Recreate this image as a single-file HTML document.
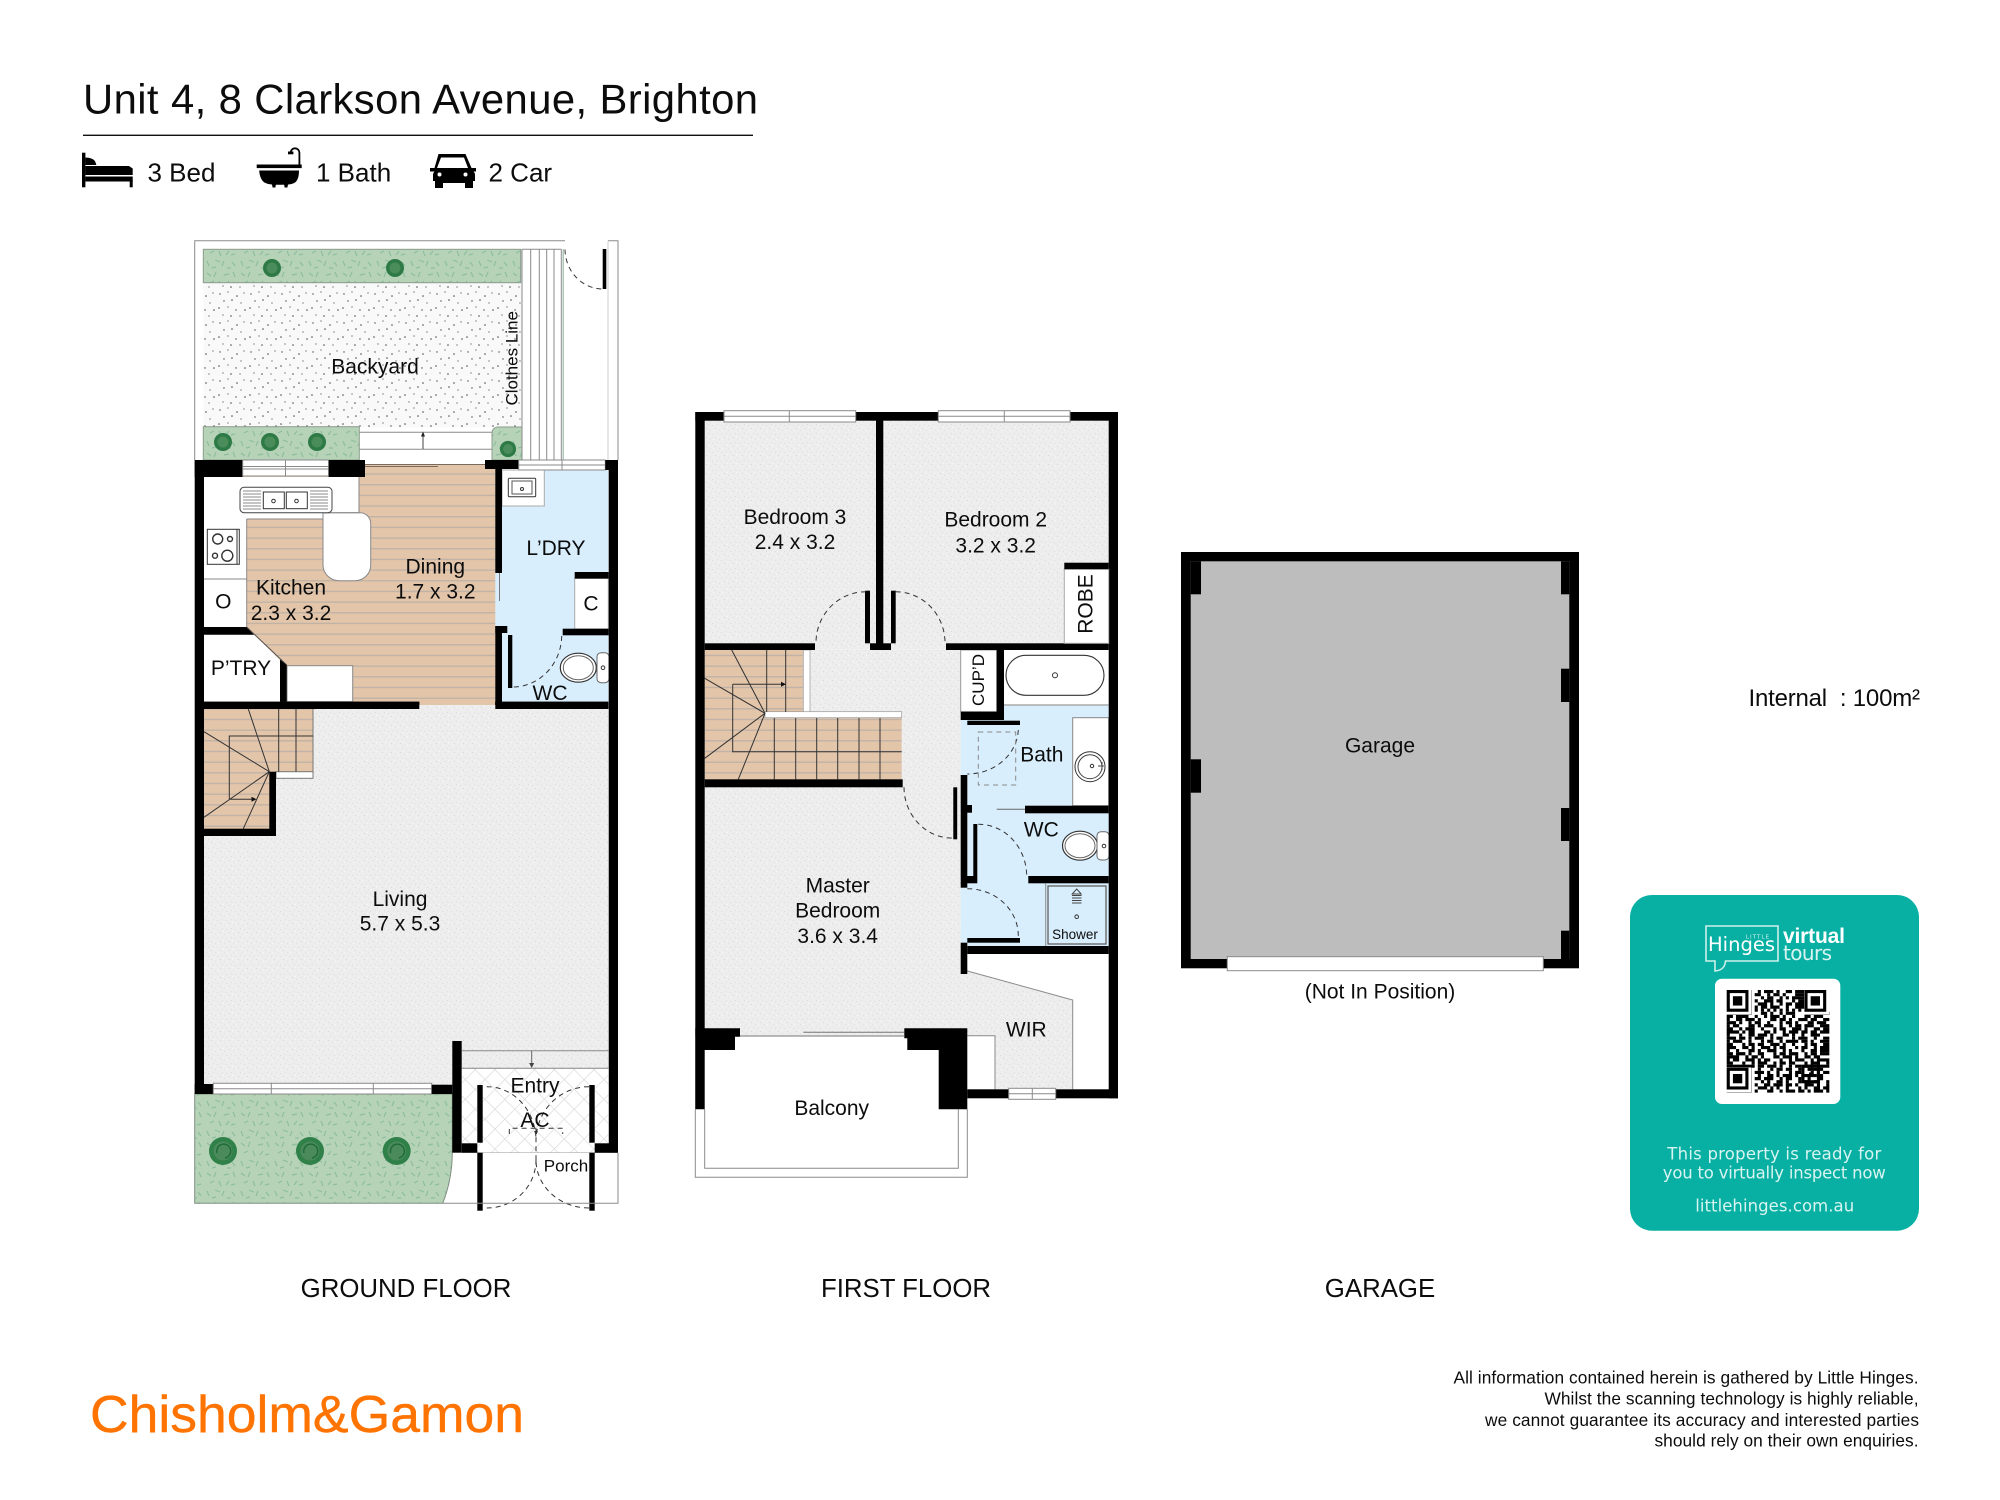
<!DOCTYPE html>
<html><head><meta charset="utf-8"><title>Unit 4, 8 Clarkson Avenue, Brighton</title>
<style>
html,body{margin:0;padding:0;background:#fff}
svg{display:block}
text{font-family:"Liberation Sans",Arial,sans-serif;fill:#0c0c0c}
.l{font-size:21px;text-anchor:middle}
.h{font-size:26px}
.f{font-size:25.8px;text-anchor:middle}
.s{font-size:17.3px;text-anchor:end}
.c text{font-family:"DejaVu Sans",sans-serif;fill:#d8f4f0;text-anchor:middle}
.d{fill:none;stroke:#333;stroke-width:1;stroke-dasharray:5 4}
.g{fill:none;stroke:#8a8a8a;stroke-width:1}
.n{fill:none;stroke:#333;stroke-width:1}
.k{fill:#000}
.w{fill:#fff;stroke:#8a8a8a;stroke-width:1}
.q path{stroke:#000;stroke-width:1.02;fill:none}
</style></head><body>
<svg xmlns="http://www.w3.org/2000/svg" width="2000" height="1500" viewBox="0 0 2000 1500">
<defs>
<pattern id="wood" patternUnits="userSpaceOnUse" width="12" height="10.67"><rect width="12" height="10.67" fill="#e3c5aa"/><rect y="4" width="12" height="1.2" fill="#bcb0a6"/></pattern>
<pattern id="cpt" patternUnits="userSpaceOnUse" width="9" height="9"><rect width="9" height="9" fill="#ededed"/><rect x="1" y="2" width="1" height="1" fill="#dcdcdc"/><rect x="6" y="1" width="1" height="1" fill="#dedede"/><rect x="4" y="5" width="1" height="1" fill="#d9d9d9"/><rect x="8" y="7" width="1" height="1" fill="#e0e0e0"/><rect x="2" y="7" width="1" height="1" fill="#f8f8f8"/><rect x="7" y="4" width="1" height="1" fill="#f8f8f8"/></pattern>
<pattern id="yard" patternUnits="userSpaceOnUse" width="31" height="29"><rect width="31" height="29" fill="#f9f9f9"/>
<g fill="#4a4a4a"><circle cx="3" cy="4" r=".7"/><circle cx="11" cy="2" r=".6"/><circle cx="20" cy="6" r=".8"/><circle cx="27" cy="3" r=".6"/><circle cx="7" cy="11" r=".7"/><circle cx="15" cy="10" r=".8"/><circle cx="24" cy="13" r=".6"/><circle cx="2" cy="18" r=".8"/><circle cx="11" cy="17" r=".6"/><circle cx="19" cy="20" r=".7"/><circle cx="28" cy="20" r=".8"/><circle cx="6" cy="25" r=".6"/><circle cx="14" cy="26" r=".8"/><circle cx="23" cy="26" r=".6"/></g></pattern>
<pattern id="grn" patternUnits="userSpaceOnUse" width="34" height="30"><rect width="34" height="30" fill="#b6d3b7"/>
<g stroke="#8ebd9f" stroke-width="1.2" fill="none"><path d="M3 3l4 3M12 2l-2 5M20 5l5-1M29 2l2 5M6 13l4-2M15 11l2 5M25 11l-3 4M31 14l-4 1M3 21l2 5M11 20l5 2M20 21l-2 5M28 22l3 4M8 28l4-1M23 28l4 0"/></g></pattern>
<pattern id="x" patternUnits="userSpaceOnUse" width="14" height="14" patternTransform="rotate(45)"><rect width="14" height="14" fill="#fff"/><path d="M0 0H14M0 0V14" stroke="#d6d6d6" stroke-width="1.2"/></pattern>
<g id="pl"><circle r="9" fill="#2e7a46"/><circle r="5.500" fill="#4a8c5a"/></g>
<g id="plb"><circle r="14" fill="#2f8049"/><circle r="9.500" fill="#4b8a5a"/><path d="M-6 2a7 7 0 1 1 8 5" fill="none" stroke="#1d6a38" stroke-width="1.400"/></g>
</defs>
<rect width="2000" height="1500" fill="#fff"/>

<!-- Header -->
<text x="83" y="113.300" font-size="41.800" textLength="675" lengthAdjust="spacing">Unit 4, 8 Clarkson Avenue, Brighton</text>
<rect x="83" y="134.600" width="670" height="1.400" fill="#111"/>
<g fill="#000">
<rect x="82" y="152.700" width="3.400" height="34.600"/>
<path d="M85.400 157.500c4 0 9 1.500 10 4.500l1 3H85.400z"/>
<path d="M85.400 166H129l3.700 2.500V175H85.400z"/>
<rect x="85.400" y="176.500" width="47.300" height="5"/>
<rect x="129.700" y="180" width="3" height="7.300"/>
<rect x="256.700" y="164.500" width="45" height="3.600"/><path d="M259 170.500h40c0 5-1 10-4 12-2 1.400-5 2-7 2l-.6 3h-2.800l-.4-2.800h-8.400l-.4 2.800h-2.800l-.6-3c-3-.2-5.400-.8-7.600-2-3-2-5-7-5.200-12z"/>
<path d="M299.400 164.500V152.700a4.400 4.400 0 0 0-8.800 0" fill="none" stroke="#000" stroke-width="1.800"/><rect x="288" y="151.500" width="5.400" height="2.800"/>
<path d="M438.500 154h27l6 14h4.500v3.500h-2.500c1 1 1.500 2 1.500 3.500v6h-2v7h-8v-5h-22v5h-8v-7h-2v-6c0-1.500.5-2.500 1.500-3.500H430V168H434.500zM441 157.500l-4 10.500h31l-4-10.500z"/>
</g>
<circle cx="439.500" cy="174.500" r="2" fill="#fff"/><circle cx="465.500" cy="174.500" r="2" fill="#fff"/>
<text class="h" x="147.500" y="181.500">3 Bed</text>
<text class="h" x="316" y="181.500">1 Bath</text>
<text class="h" x="488.500" y="181.500">2 Car</text>

<!-- GROUND FLOOR: yard -->
<path class="g" d="M194.700 460V240.700H565M608 240.700H618V460"/>
<path d="M608 240.700V460" stroke="#cfcfcf" fill="none"/>
<rect x="203.300" y="249.300" width="318.700" height="178" fill="url(#yard)"/>
<rect x="359.300" y="432" width="132.700" height="28" fill="#fff"/>
<path class="g" d="M359.300 432.300H492M359.300 449.300H492"/>
<path d="M423 449V436" stroke="#444" fill="none"/><path d="M423 431.500l-2 5h4z" fill="#222"/>
<rect x="203.300" y="249.300" width="317.400" height="33.400" fill="url(#grn)" stroke="#8c9c8e"/>
<rect x="203.300" y="426.700" width="156" height="33.300" fill="url(#grn)" stroke="#8c9c8e"/>
<path d="M522 427H498a6 6 0 0 0-6 6V460H522z" fill="url(#grn)" stroke="#8c9c8e"/>
<use href="#pl" x="272" y="268"/><use href="#pl" x="395" y="268"/>
<use href="#pl" x="223" y="442"/><use href="#pl" x="270" y="442"/><use href="#pl" x="317" y="442"/>
<use href="#pl" x="508" y="449" transform="translate(50.800 44.900) scale(.9)"/>
<path class="g" d="M522 249.300H561.300M522 249.300V460M530.700 249.300V460M539.300 249.300V460M546.700 249.300V460M554 249.300V460M561.300 249.300V460"/>
<path d="M563.200 249.300V460" stroke="#9ab9a3" fill="none" stroke-width="1.200"/>
<rect x="602.700" y="249" width="3.600" height="40" class="k"/>
<path class="d" d="M565 249.500A38 40 0 0 0 602 289"/>

<!-- Ground interior floors -->
<rect x="204" y="464" width="291.400" height="241" fill="url(#wood)"/>
<rect x="204" y="477" width="155" height="42" fill="#fff"/>
<rect x="204" y="477" width="42.700" height="158" fill="#fff"/>
<path d="M323 512.700H360a10.700 10.700 0 0 1 10.700 10.700V565a15.700 15.700 0 0 1-15.700 15.700H339a16 16 0 0 1-16-16z" fill="#fff" stroke="#888"/>
<path d="M359 477V512.700H323M246.700 519H323V513" fill="none" stroke="#888"/>
<path class="g" d="M246.700 519V627M204 579H246.700"/>
<!-- kitchen sink -->
<rect x="240" y="487.300" width="92" height="25.400" rx="4" fill="#fff" stroke="#444"/>
<rect x="263.300" y="492" width="21" height="16.700" fill="#fff" stroke="#333"/><rect x="286.300" y="492" width="21" height="16.700" fill="#fff" stroke="#333"/>
<path d="M243 491H261M243 494H261M243 497H261M243 500H261M243 503H261M243 506H261M243 509H261M310 491H328M310 494H328M310 497H328M310 500H328M310 503H328M310 506H328M310 509H328" stroke="#666" stroke-width=".8"/>
<circle cx="273.500" cy="501" r="1.800" fill="none" stroke="#333"/><circle cx="296.500" cy="501" r="1.800" fill="none" stroke="#333"/>
<!-- cooktop -->
<rect x="207.300" y="529.300" width="32" height="35" fill="#fff" stroke="#333"/><path d="M237 529.300V564.300" stroke="#333"/>
<g fill="none" stroke="#333" stroke-width="1.400"><circle cx="217.700" cy="539" r="5"/><circle cx="230" cy="539" r="2.500"/><circle cx="215" cy="555.700" r="2.500"/><circle cx="227.300" cy="555.700" r="5.500"/></g>
<!-- pantry -->
<path d="M204 634.700H254L280 660V702H204z" fill="#fff"/>
<rect x="287" y="665.700" width="65.700" height="36" fill="#fff" stroke="#888"/>
<path class="k" d="M204 627H246.700L254 634.700H204z"/>
<path d="M246.700 627L286.700 665" stroke="#555" fill="none"/>
<path class="k" d="M280 659.500L286.700 665V701.700H280z"/>
<!-- sliding door and window -->
<path d="M365 464.500H485M365 466.500H438" stroke="#7a6a5c" fill="none"/>
<rect x="194.700" y="460" width="48" height="17" class="k"/>
<rect x="242.700" y="460" width="86" height="16" class="w"/><path class="g" d="M242.700 466.500H328.700M242.700 469H328.700M285.500 460V476"/>
<rect x="328.700" y="460" width="36.300" height="17" class="k"/>
<rect x="485" y="460" width="33.700" height="9" class="k"/>
<!-- laundry and WC -->
<rect x="495.400" y="470" width="113" height="156" fill="#d9eefd"/>
<rect x="502" y="620" width="106.500" height="82" fill="#d9eefd"/>
<rect x="502" y="470" width="42.300" height="36" fill="#fff" stroke="#aaa"/>
<rect x="508.300" y="478.300" width="27.400" height="18.400" fill="#fff" stroke="#333" rx="1"/><rect x="512" y="481" width="20" height="13" fill="none" stroke="#555"/><circle cx="522" cy="489" r="1.500" fill="none" stroke="#333"/>
<rect x="574.700" y="578" width="33.600" height="51" fill="#fff" stroke="#aaa"/>
<rect x="518.700" y="460" width="86.600" height="10" class="w"/><path class="g" d="M518.700 465H605.300M562 460V470"/>
<rect x="605.300" y="460" width="12.700" height="10" class="k"/>
<rect x="495.300" y="469" width="6.700" height="104" class="k"/>
<path d="M499.500 573V601" stroke="#777" fill="none"/>
<rect x="574.700" y="572" width="34" height="6.700" class="k"/>
<rect x="495.300" y="626" width="6.700" height="83" class="k"/><rect x="495.300" y="626" width="12" height="7" class="k"/>
<rect x="562.700" y="628.700" width="46" height="6.600" class="k"/>
<rect x="508" y="635" width="4.300" height="53" class="k"/>
<path class="d" d="M561.700 636A49 52 0 0 1 513 687"/>
<ellipse cx="578.300" cy="667.700" rx="18" ry="14.500" fill="#fff" stroke="#333" stroke-width="1.200"/><ellipse cx="578.300" cy="667.700" rx="15" ry="12" fill="none" stroke="#666"/>
<rect x="597" y="652.700" width="12" height="30" rx="4" fill="#fff" stroke="#666"/><circle cx="603" cy="667.700" r="1.800" fill="none" stroke="#333"/>
<rect x="204" y="701.700" width="215.300" height="7.300" class="k"/>
<rect x="495.300" y="701.700" width="113" height="7.300" class="k"/>

<!-- Living -->
<rect x="204" y="705" width="404" height="389" fill="url(#cpt)"/>
<rect x="204" y="701.700" width="215.300" height="7.300" class="k"/>
<rect x="495.300" y="701.700" width="113" height="7.300" class="k"/>
<rect x="204" y="709" width="109" height="62.700" fill="url(#wood)"/>
<rect x="204" y="771" width="65.400" height="58" fill="url(#wood)"/>
<rect x="276" y="771.700" width="37" height="6.600" fill="#fff" stroke="#777"/>
<path d="M313 709V771.700" stroke="#777" fill="none"/>
<path class="n" d="M269.300 771.700L204 731.700M269.300 771.700L248.300 709M269.300 771.700L204 817.300M269.300 771.700L243.300 828.700M278.700 709V771.700M296 709V771.700M229.300 799.300V736H313M229.300 799.300H253"/>
<path d="M256.500 799.300l-5-2.500v5z" fill="#111"/>
<rect x="269.300" y="771.700" width="6.700" height="64.300" class="k"/><rect x="204" y="828.700" width="72" height="7.300" class="k"/>

<!-- Ground walls -->
<rect x="194.700" y="460" width="9.300" height="634" class="k"/>
<rect x="608.700" y="460" width="9.300" height="692.700" class="k"/>

<!-- Front garden -->
<path d="M194.700 1094H452.300V1152C452.300 1172 448 1190 442.700 1203.300H194.700z" fill="url(#grn)" stroke="#7f8f80"/>
<use href="#plb" x="223" y="1151"/><use href="#plb" x="310" y="1151"/><use href="#plb" x="396.700" y="1151"/>
<rect x="194.700" y="1084" width="18.600" height="10" class="k"/>
<rect x="213.300" y="1083.300" width="218.400" height="10.700" class="w"/><path class="g" d="M213.300 1088.700H431.700M271.300 1083.300V1094M373.300 1083.300V1094"/>
<rect x="431.700" y="1084.700" width="20.600" height="9.300" class="k"/>
<rect x="452.300" y="1041" width="9.400" height="111.700" class="k"/>
<!-- Entry -->
<rect x="461.700" y="1068.300" width="147" height="84.400" fill="url(#x)" stroke="#999" stroke-width=".5"/>
<path class="g" d="M461.700 1050.700H608.700M461.700 1068.300H608.700"/>
<path d="M531.700 1050.700V1064" stroke="#666" fill="none"/><path d="M531.700 1068l-2.500-5h5z" fill="#444"/>
<rect x="461.700" y="1143.300" width="15.600" height="9.400" class="k"/><rect x="594.700" y="1143.300" width="23.300" height="9.400" class="k"/>
<rect x="477.300" y="1085" width="5.400" height="57.700" class="k"/><rect x="477.300" y="1152.700" width="5.400" height="58" class="k"/>
<rect x="589.300" y="1085" width="5.400" height="57.700" class="k"/><rect x="589.300" y="1152.700" width="5.400" height="58" class="k"/>
<path class="d" d="M486.700 1086.700A49 54 0 0 1 536 1141M589 1086.700A53 54 0 0 0 536 1141M486.700 1208A49 48 0 0 0 536 1160M589 1208A53 48 0 0 1 536 1160M509.300 1134V1128.300H562.700V1134M536 1128.300V1160"/>
<path d="M536 1135l-2-4h4z" fill="#333"/>
<path class="g" d="M442.700 1203.300H618V1152.700"/>

<!-- FIRST FLOOR -->
<rect x="704.700" y="420.700" width="404" height="229" fill="url(#cpt)"/>
<rect x="704.700" y="650" width="256" height="390" fill="url(#cpt)"/>
<path d="M967.300 971.300L1072.700 1000V1089.300H995V1035.700H960V965z" fill="url(#cpt)"/>
<path class="g" d="M962 969.500L1072.700 1000V1089.300M995 1089.300V1035.700H960"/>
<rect x="704.700" y="650" width="98.600" height="62" fill="url(#wood)"/>
<rect x="704.700" y="717.700" width="197" height="61.600" fill="url(#wood)"/>
<rect x="704.700" y="711" width="60.300" height="7" fill="url(#wood)"/>
<rect x="803.300" y="650" width="6.700" height="62" fill="#fff" stroke="#999" stroke-width=".7"/>
<rect x="765" y="711.700" width="136.700" height="6" fill="#fff" stroke="#999" stroke-width=".7"/>
<path class="n" d="M765 713.300L731.700 650M765 713.300L704.700 678.300M765 713.300L704.700 758.300M765 713.300L738.300 779.300M766.700 650V712M785.700 650V712M774.300 718V779.300M795.700 718V779.300M816.700 718V779.300M837.700 718V779.300M859 718V779.300M880 718V779.300M732.700 684.300V751.700H901.700M732.700 684.300H782"/>
<path d="M786 684.300l-5-2.500v5z" fill="#111"/>

<!-- Bathroom zone -->
<rect x="960.700" y="705" width="148" height="241" fill="#d9eefd"/>
<rect x="1004" y="650" width="104.700" height="55" fill="#fff"/><path d="M1004 705H1108.700" stroke="#aaa" stroke-width="1.500"/>
<rect x="1006" y="655.300" width="98" height="40" rx="20" fill="#fff" stroke="#333" stroke-width="1.100"/><circle cx="1055" cy="675.300" r="2.500" fill="none" stroke="#333"/>
<rect x="960.700" y="650" width="36" height="61.700" fill="#fff" stroke="#999"/>
<rect x="1072.700" y="717.700" width="36" height="88" fill="#fff" stroke="#888"/>
<circle cx="1090" cy="766.700" r="15" fill="none" stroke="#333"/><circle cx="1090" cy="766.700" r="12" fill="none" stroke="#444"/><circle cx="1092" cy="766" r="1.700" fill="none" stroke="#333"/><path d="M1098 766H1104M1102 762V770" stroke="#444" fill="none"/>
<rect x="996.700" y="650" width="7.300" height="70" class="k"/><rect x="960.700" y="711.700" width="43.300" height="8.300" class="k"/>
<rect x="967.300" y="720.700" width="52.700" height="4.300" class="k"/>
<path class="d" d="M1018.300 730A51 46 0 0 1 967.300 774"/>
<rect x="978.300" y="732" width="37.400" height="53" fill="none" stroke="#888" stroke-dasharray="5 4"/>
<rect x="1025" y="805.700" width="83.700" height="7.600" class="k"/>
<path d="M996.700 809.300H1025" stroke="#666" fill="none"/>
<rect x="960.700" y="775" width="6.600" height="112.700" class="k"/>
<rect x="966" y="805" width="6" height="7.700" class="k"/>
<rect x="953.300" y="787.300" width="3.900" height="52" class="k"/>
<rect x="973.300" y="824" width="4" height="52" class="k"/><rect x="966" y="876" width="11.300" height="7.300" class="k"/>
<path class="d" d="M978.300 824.300A48 52 0 0 1 1026.700 876"/>
<path class="d" d="M904 787.300A48 51 0 0 0 951.700 838"/>
<rect x="1028.300" y="876" width="80.400" height="7.300" class="k"/>
<ellipse cx="1080" cy="845.700" rx="17.500" ry="14.500" fill="#fff" stroke="#333" stroke-width="1.200"/><ellipse cx="1080" cy="845.700" rx="15" ry="12" fill="none" stroke="#666"/>
<rect x="1097" y="831.700" width="12" height="28.300" rx="4" fill="#fff" stroke="#666"/><circle cx="1104" cy="846" r="1.800" fill="none" stroke="#333"/>
<path class="g" d="M1045.700 883V946"/>
<rect x="1048" y="886" width="58" height="58" fill="none" stroke="#555" stroke-width="1.200"/>
<path d="M1076.700 889l4.500 5h-9zM1072 895.500h9.500M1072 898h9.500M1072 900.500h9.500M1072 903h9.500" stroke="#444" fill="none"/><circle cx="1076.700" cy="916.700" r="1.800" fill="none" stroke="#333"/>
<rect x="967.300" y="938" width="52.700" height="4.700" class="k"/>
<path class="d" d="M967.300 888.700A51 47 0 0 1 1018.300 936"/>
<rect x="960.700" y="942.700" width="6.600" height="31.300" class="k"/>
<rect x="967.300" y="946" width="141.400" height="8" class="k"/>

<!-- First floor walls -->
<rect x="695.300" y="412" width="422.700" height="8.700" class="k"/>
<rect x="695.300" y="412" width="9.400" height="697.300" class="k"/>
<rect x="1108.700" y="412" width="9.300" height="686.300" class="k"/>
<rect x="724" y="410.700" width="131.700" height="11.300" class="w"/><path class="g" d="M724 416.300H855.700M789.300 410.700V422"/>
<rect x="938.300" y="410.700" width="131.700" height="11.300" class="w"/><path class="g" d="M938.300 416.300H1070M1004.300 410.700V422"/>
<rect x="876" y="420" width="7.300" height="225" class="k"/><rect x="870" y="643.300" width="21" height="6.700" class="k"/>
<rect x="865" y="590.700" width="5" height="52.600" class="k"/><rect x="891" y="590.700" width="4.700" height="52.600" class="k"/>
<path class="d" d="M866 591.700A50 51 0 0 0 816 642.700M895.700 591.700A49.500 51 0 0 1 945 643"/>
<rect x="704.700" y="643.300" width="110.300" height="6.700" class="k"/>
<rect x="946" y="643.300" width="162.700" height="6.700" class="k"/>
<rect x="1064.300" y="569" width="44.400" height="74.300" fill="#fff" stroke="#aaa"/>
<rect x="1064.300" y="562.700" width="44.400" height="6.600" class="k"/>
<rect x="704.700" y="779.300" width="198" height="8" class="k"/>
<!-- Balcony -->
<rect x="695.300" y="1036" width="272" height="141.300" fill="#fff"/>
<path class="g" d="M695.300 1109.300V1177.300H967.300V1109.300M704.700 1109.300V1168.300H958.300V1109.300"/>
<path class="k" d="M695.300 1028.300H740V1036.700H735V1050H704.700V1109.300H695.300z"/>
<path class="k" d="M904.300 1028.300H967.300V1109.300H938.700V1050H907.300V1038.300H904.300z"/>
<path d="M740 1036H904.300M803.300 1032.300H841M841 1032.300H904.300" stroke="#777" fill="none"/>
<rect x="967.300" y="1089.300" width="150.700" height="9" class="k"/>
<rect x="1008.700" y="1088.300" width="47" height="11" class="w"/><path class="g" d="M1008.700 1093.800H1055.700M1032.300 1088.300V1099.300"/>

<!-- GARAGE -->
<rect x="1181" y="552" width="398" height="416.300" class="k"/>
<rect x="1190.700" y="561.300" width="378.600" height="397.700" fill="#bdbdbd"/>
<rect x="1190.700" y="561.300" width="10.300" height="33" class="k"/>
<rect x="1561" y="561.300" width="8.300" height="33" class="k"/>
<rect x="1561" y="668.700" width="8.300" height="33.300" class="k"/>
<rect x="1561" y="808" width="8.300" height="33" class="k"/>
<rect x="1561" y="930.700" width="8.300" height="28.300" class="k"/>
<rect x="1190.700" y="759.300" width="10.300" height="33.400" class="k"/>
<rect x="1227.300" y="956.700" width="316" height="14" class="w"/>

<!-- Room labels -->
<text class="l" x="375" y="373.300">Backyard</text>
<text font-size="17" text-anchor="middle" transform="translate(517.300 358.300) rotate(-90)">Clothes Line</text>
<text class="l" x="291" y="594.300">Kitchen</text><text class="l" x="291" y="620">2.3 x 3.2</text>
<text class="l" x="435.300" y="573.300">Dining</text><text class="l" x="435.300" y="598.300">1.7 x 3.2</text>
<text class="l" x="556" y="555">L’DRY</text>
<text class="l" x="591" y="610.700">C</text><text class="l" x="223.300" y="608.300">O</text>
<text class="l" x="241" y="675">P’TRY</text><text class="l" x="550" y="700">WC</text>
<text class="l" x="400" y="906">Living</text><text class="l" x="400" y="930.700">5.7 x 5.3</text>
<text class="l" x="535" y="1092.700">Entry</text><text class="l" x="535" y="1127">AC</text>
<text x="566" y="1171.700" font-size="17" text-anchor="middle">Porch</text>
<text class="l" x="795" y="523.800">Bedroom 3</text><text class="l" x="795" y="549">2.4 x 3.2</text>
<text class="l" x="995.700" y="526.700">Bedroom 2</text><text class="l" x="995.700" y="552.300">3.2 x 3.2</text>
<text class="l" transform="translate(1092.300 604) rotate(-90)">ROBE</text>
<text font-size="17" text-anchor="middle" transform="translate(984 680) rotate(-90)">CUP’D</text>
<text class="l" x="1041.800" y="761.700">Bath</text>
<text class="l" x="1041.300" y="836.700">WC</text>
<text x="1075" y="939" font-size="13.500" text-anchor="middle">Shower</text>
<text class="l" x="837.700" y="892.300">Master</text><text class="l" x="837.700" y="917.700">Bedroom</text><text class="l" x="837.700" y="943">3.6 x 3.4</text>
<text class="l" x="1026.300" y="1036.700">WIR</text>
<text class="l" x="831.700" y="1115">Balcony</text>
<text class="l" x="1380" y="752.700">Garage</text>
<text class="l" x="1380" y="998.300">(Not In Position)</text>

<text class="f" x="406" y="1297">GROUND FLOOR</text>
<text class="f" x="906" y="1297">FIRST FLOOR</text>
<text class="f" x="1380" y="1297">GARAGE</text>
<text x="1748.500" y="706" font-size="24" textLength="171.500" xml:space="preserve">Internal  : 100m²</text>

<!-- Card -->
<rect x="1630" y="895" width="289" height="335.700" rx="22" fill="#08b0a4"/>
<g class="c">
<path d="M1706 926H1778V961H1725.500C1725 968 1721 970.500 1715 971V961H1706z" fill="none" stroke="#cdf0ec" stroke-width="1.600"/>
<text x="1741.500" y="951" font-size="19.500" style="fill:#fff">Hinges</text>
<text x="1758" y="938.500" font-size="5.600" style="fill:#d8f4f0" letter-spacing="1">LITTLE</text>
<text x="1814" y="943" font-size="21" font-weight="bold" style="fill:#fff;font-family:'Liberation Sans',sans-serif" textLength="62">virtual</text>
<text x="1807.500" y="960" font-size="20" textLength="49">tours</text>
<text x="1774.300" y="1159.300" font-size="16.500" textLength="214">This property is ready for</text>
<text x="1774.300" y="1178.300" font-size="16.500" textLength="223">you to virtually inspect now</text>
<text x="1774.700" y="1211.700" font-size="16.500" textLength="159">littlehinges.com.au</text>
</g>
<rect x="1715" y="978.700" width="125.300" height="125.300" rx="7" fill="#fff"/>
<g class="q" transform="translate(1726.700 990) scale(3.110)">
<path d="M0 .5H33" stroke-dasharray="8 2 1 1 3 1 1 2 2 1 3 8"/>
<path d="M0 1.500H33" stroke-dasharray="8 1 2 2 1 1 2 1 1 3 3 8"/>
<path d="M0 2.500H33" stroke-dasharray="8 3 1 1 2 2 1 1 1 1 4 8"/>
<path d="M0 3.500H33" stroke-dasharray="8 1 1 2 3 1 2 3 1 1 2 8"/>
<path d="M0 4.500H33" stroke-dasharray="8 2 3 1 1 2 1 1 2 1 3 8"/>
<path d="M0 5.500H33" stroke-dasharray="8 1 1 1 2 1 3 2 1 2 3 8"/>
<path d="M0 6.500H33" stroke-dasharray="8 1 1 1 1 1 1 1 1 1 1 1 1 1 1 1 1 1 1 8"/>
<path d="M0 7.500H33" stroke-dasharray="8 3 2 1 1 2 1 1 3 3 8"/>
<path d="M0 8.500H33" stroke-dasharray="2 1 4 2 1 2 1 1 3 1 1 2 1 3 2 1 3 2"/>
<path d="M0 9.500H33" stroke-dasharray="1 2 2 1 3 1 1 3 2 1 2 1 1 2 3 1 2 2 2"/>
<path d="M0 10.500H33" stroke-dasharray="3 1 1 2 1 1 2 2 1 3 1 1 2 1 1 3 2 1"/>
<path d="M0 11.500H33" stroke-dasharray="1 1 2 3 2 1 1 1 3 2 1 2 1 1 2 1 3 2 3"/>
<path d="M0 12.500H33" stroke-dasharray="2 2 1 1 3 2 1 3 1 1 2 2 3 1 1 2 2 1 2"/>
<path d="M0 13.500H33" stroke-dasharray="4 1 1 1 2 3 2 1 1 2 1 1 3 1 2 1 2 1 3"/>
<path d="M0 14.500H33" stroke-dasharray="1 3 1 2 2 1 3 1 1 3 2 1 1 2 1 2 3 3"/>
<path d="M0 15.500H33" stroke-dasharray="3 1 2 1 1 1 3 2 1 1 2 3 1 1 3 2 1 2 2"/>
<path d="M0 16.500H33" stroke-dasharray="1 1 3 2 1 3 1 1 2 2 1 1 4 1 2 1 1 2 3"/>
<path d="M0 17.500H33" stroke-dasharray="2 3 1 1 2 1 2 2 3 1 1 2 1 3 1 1 2 2 2"/>
<path d="M0 18.500H33" stroke-dasharray="3 2 2 1 1 2 3 1 1 1 2 3 1 1 2 2 1 1 3"/>
<path d="M0 19.500H33" stroke-dasharray="1 2 1 3 2 1 1 2 3 2 1 1 1 3 1 2 2 1 3"/>
<path d="M0 20.500H33" stroke-dasharray="2 1 3 1 1 2 2 3 1 1 2 1 3 2 1 1 2 1 3"/>
<path d="M0 21.500H33" stroke-dasharray="4 2 1 1 2 1 1 3 2 1 3 1 1 2 2 1 2 3"/>
<path d="M0 22.500H33" stroke-dasharray="1 1 2 2 3 1 1 1 2 3 1 2 1 1 3 2 1 1 4"/>
<path d="M0 23.500H33" stroke-dasharray="2 3 1 2 1 1 3 2 1 1 2 1 2 3 1 1 3 2 1"/>
<path d="M0 24.500H33" stroke-dasharray="9 1 2 1 3 1 1 2 1 1 2 1 3 1 4"/>
<path d="M0 25.500H33" stroke-dasharray="8 2 1 3 1 1 2 1 2 2 1 2 5 2"/>
<path d="M0 26.500H33" stroke-dasharray="8 1 3 1 1 2 1 3 1 1 2 3 1 1 1 1 3"/>
<path d="M0 27.500H33" stroke-dasharray="8 2 1 2 2 1 1 1 3 1 1 1 5 1 1 2"/>
<path d="M0 28.500H33" stroke-dasharray="8 1 2 1 3 2 1 1 2 2 1 2 1 3 1 2 2"/>
<path d="M0 29.500H33" stroke-dasharray="8 3 1 1 1 2 2 1 1 3 1 1 2 1 2 2 3"/>
<path d="M0 30.500H33" stroke-dasharray="8 1 1 2 2 1 3 1 2 1 1 2 3 1 1 2 2"/>
<path d="M0 31.500H33" stroke-dasharray="8 2 3 1 1 1 1 2 1 3 1 1 1 2 2 1 3"/>
<path d="M0 32.500H33" stroke-dasharray="8 1 1 3 2 2 1 1 3 1 2 1 1 1 3 1 2"/>
</g>
<g transform="translate(1726.700 990) scale(3.110)">
<g id="fnd"><rect x="-.1" y="-.1" width="8" height="8" fill="#fff"/><rect x=".5" y=".5" width="6" height="6" fill="none" stroke="#000"/><rect x="2" y="2" width="3" height="3" fill="#000"/></g>
<use href="#fnd" x="25"/><use href="#fnd" y="25"/>
<rect x="24.500" y="24.500" width="5" height="5" fill="none" stroke="#000"/><rect x="26.500" y="26.500" width="1" height="1"/>
</g>

<!-- Footer -->
<text x="90" y="1432" font-size="52" textLength="434" lengthAdjust="spacingAndGlyphs" style="fill:#ff7300;stroke:#ff7300;stroke-width:.4">Chisholm&amp;Gamon</text>
<text class="s" x="1918.500" y="1383.300" textLength="465">All information contained herein is gathered by Little Hinges.</text>
<text class="s" x="1918.500" y="1404.300" textLength="374">Whilst the scanning technology is highly reliable,</text>
<text class="s" x="1919" y="1426" textLength="434">we cannot guarantee its accuracy and interested parties</text>
<text class="s" x="1918.500" y="1446.700" textLength="264">should rely on their own enquiries.</text>
</svg>
</body></html>
